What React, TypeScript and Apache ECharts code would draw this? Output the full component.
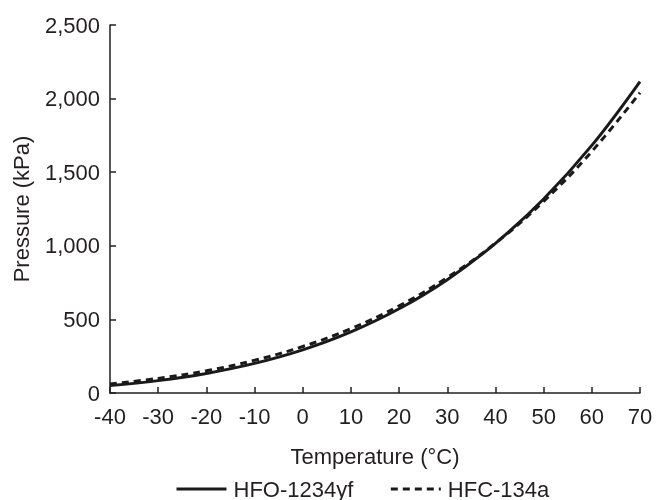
import React, { useEffect, useRef } from "react";
import * as echarts from "echarts";

const temperatures = [-40, -30, -20, -10, 0, 10, 20, 30, 40, 50, 60, 70];
const hfo1234yf = [51, 84, 133, 201, 293, 415, 572, 770, 1017, 1318, 1682, 2116];
const hfc134a = [62, 99, 151, 222, 316, 437, 592, 784, 1018, 1302, 1641, 2040];
const seriesNames = ["HFO-1234yf", "HFC-134a"];

const FONT = "'Liberation Sans', Arial, Helvetica, sans-serif";
const TEXT = "#231f20";

export default function App() {
  const ref = useRef<HTMLDivElement>(null);
  useEffect(() => {
    if (!ref.current) return;
    const chart = echarts.init(ref.current, null, { renderer: "svg" });
    const axisCommon = {
      axisTick: { show: true, inside: true, length: 6, lineStyle: { color: TEXT, width: 1.5 } },
      splitLine: { show: false },
      nameTextStyle: { fontSize: 22, color: TEXT, fontFamily: FONT },
    };
    chart.setOption({
      animation: false,
      textStyle: { fontFamily: FONT },
      grid: { left: 110, top: 25, right: 16, bottom: 107, containLabel: false },
      legend: {
        left: 170,
        top: 473,
        itemWidth: 50,
        itemHeight: 14,
        itemGap: 36,
        itemStyle: { opacity: 0, borderWidth: 0 },
        lineStyle: { width: 3 },
        textStyle: { fontSize: 22, color: TEXT, fontFamily: FONT, padding: [0, 0, 0, 2] },
        data: seriesNames,
      },
      xAxis: {
        type: "value",
        min: -40,
        max: 70,
        interval: 10,
        name: "Temperature (°C)",
        nameLocation: "middle",
        nameGap: 52,
        ...axisCommon,
        axisLine: { show: true, onZero: false, lineStyle: { color: TEXT, width: 1.5 } },
        axisLabel: { fontSize: 22, color: TEXT, margin: 12, fontFamily: FONT },
      },
      yAxis: {
        type: "value",
        min: 0,
        max: 2500,
        interval: 500,
        name: "Pressure (kPa)",
        nameLocation: "middle",
        nameGap: 78,
        ...axisCommon,
        axisLine: { show: true, onZero: false, lineStyle: { color: TEXT, width: 1.5 } },
        axisLabel: {
          fontSize: 22,
          color: TEXT,
          margin: 10,
          fontFamily: FONT,
          formatter: (v: number) => v.toLocaleString("en-US"),
        },
      },
      series: [
        {
          name: seriesNames[0],
          type: "line",
          smooth: 0.4,
          symbol: "none",
          data: temperatures.map((t, i) => [t, hfo1234yf[i]]),
          lineStyle: { color: "#1a1a1a", width: 3 },
          itemStyle: { color: "#1a1a1a" },
        },
        {
          name: seriesNames[1],
          type: "line",
          smooth: 0.4,
          symbol: "none",
          data: temperatures.map((t, i) => [t, hfc134a[i]]),
          lineStyle: { color: "#1a1a1a", width: 3, type: [7, 5] },
          itemStyle: { color: "#1a1a1a" },
        },
      ],
    });
    return () => chart.dispose();
  }, []);
  return (
    <div
      ref={ref}
      style={{ position: "fixed", left: 0, top: 0, width: 656, height: 500 }}
    />
  );
}
